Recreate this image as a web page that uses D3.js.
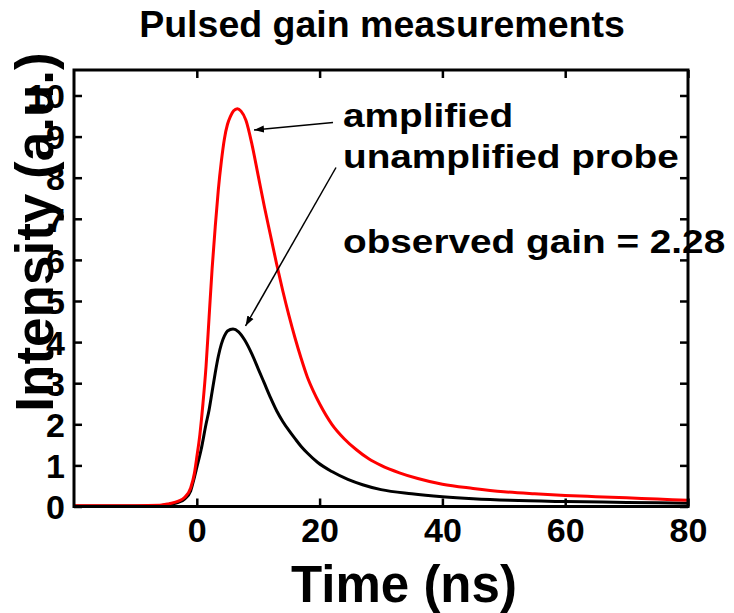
<!DOCTYPE html>
<html>
<head>
<meta charset="utf-8">
<script src="https://cdn.jsdelivr.net/npm/d3@7"></script>
<style>
  html, body { margin: 0; padding: 0; background: #fff; }
  svg { display: block; }
  text { font-family: "Liberation Sans", Arial, Helvetica, sans-serif; font-weight: bold; fill: #000; }
</style>
</head>
<body>
<svg id="chart" width="734" height="613"></svg>
<script>
// ---- Data ----
const title = "Pulsed gain measurements";
const xLabel = "Time (ns)";
const yLabel = "Intensity (a.u.)";

// amplified probe (red)
const timeAmplified = [-20, -10, -6, -4.5, -3, -2, -1, -0.4, 0, 0.5, 1, 1.5, 2, 2.5, 3, 3.5, 4, 4.5, 5, 5.5, 6, 6.6, 7.2, 8, 9, 10, 11, 12, 13, 14, 15, 16, 17, 18, 19, 20, 22, 24, 26, 28, 30, 33, 36, 40, 45, 50, 55, 60, 65, 70, 75, 80];
const amplified     = [0.02, 0.02, 0.03, 0.07, 0.13, 0.22, 0.45, 0.8, 1.2, 1.75, 2.5, 3.4, 4.6, 5.8, 6.8, 7.7, 8.4, 8.95, 9.3, 9.5, 9.63, 9.68, 9.62, 9.4, 8.8, 8.05, 7.3, 6.6, 5.9, 5.25, 4.65, 4.1, 3.6, 3.15, 2.8, 2.5, 2.0, 1.65, 1.38, 1.16, 1.0, 0.82, 0.68, 0.54, 0.44, 0.36, 0.31, 0.27, 0.24, 0.21, 0.18, 0.15];

// unamplified probe (black)
const timeUnamplified = [-20, -10, -6, -4.5, -3, -2, -1, -0.5, 0, 0.7, 1.5, 2, 2.5, 3, 3.5, 4, 4.5, 5, 5.9, 6.8, 7.8, 9, 10, 11, 12, 13, 14, 15, 16, 17, 18, 19.7, 22, 24.6, 27, 30, 35, 40, 45, 51, 60, 70, 80];
const unamplified     = [0.01, 0.01, 0.02, 0.05, 0.1, 0.18, 0.38, 0.65, 0.95, 1.38, 2.0, 2.35, 2.8, 3.25, 3.65, 3.95, 4.15, 4.27, 4.32, 4.25, 4.05, 3.7, 3.35, 3.0, 2.65, 2.33, 2.07, 1.85, 1.65, 1.46, 1.3, 1.07, 0.85, 0.66, 0.53, 0.41, 0.31, 0.24, 0.19, 0.15, 0.12, 0.1, 0.08];

const xTicks = [0, 20, 40, 60, 80];
const yTicks = [0, 1, 2, 3, 4, 5, 6, 7, 8, 9, 10];
const xDomain = [-20, 80];
const yDomain = [0, 10.62];

const annotations = ["amplified", "unamplified probe", "observed gain = 2.28"];

// ---- Layout ----
const svg = d3.select("#chart");
const L = 74, R = 688, T = 70, B = 506.5;

const x = d3.scaleLinear().domain(xDomain).range([L, R]);
const y = d3.scaleLinear().domain(yDomain).range([B, T]);

// title
svg.append("text")
  .attr("x", 382).attr("y", 37)
  .attr("text-anchor", "middle")
  .style("font-size", "37.5px")
  .text(title);

// curves
const line = d3.line().x(d => x(d[0])).y(d => y(d[1])).curve(d3.curveMonotoneX);
const blackData = timeUnamplified.map((t, i) => [t, unamplified[i]]);
const redData = timeAmplified.map((t, i) => [t, amplified[i]]);

svg.append("path").datum(blackData)
  .attr("d", line).attr("fill", "none")
  .attr("stroke", "#000").attr("stroke-width", 3).attr("stroke-linejoin", "round");
svg.append("path").datum(redData)
  .attr("d", line).attr("fill", "none")
  .attr("stroke", "#ff0000").attr("stroke-width", 3).attr("stroke-linejoin", "round");

// axes (ticks point inward)
const tickLen = 8;
const gx = svg.append("g").attr("transform", `translate(0,${B})`)
  .call(d3.axisBottom(x).tickValues(xTicks).tickSizeInner(-tickLen).tickSizeOuter(0).tickPadding(35));
const gxTop = svg.append("g").attr("transform", `translate(0,${T})`)
  .call(d3.axisTop(x).tickValues(xTicks).tickSizeInner(-tickLen).tickSizeOuter(0).tickFormat(""));
const gy = svg.append("g").attr("transform", `translate(${L},0)`)
  .call(d3.axisLeft(y).tickValues(yTicks).tickSizeInner(-tickLen).tickSizeOuter(0).tickPadding(9));
const gyR = svg.append("g").attr("transform", `translate(${R},0)`)
  .call(d3.axisRight(y).tickValues(yTicks).tickSizeInner(-tickLen).tickSizeOuter(0).tickFormat(""));

[gx, gxTop, gy, gyR].forEach(g => {
  g.select(".domain").remove();
  g.selectAll(".tick line").attr("stroke", "#000").attr("stroke-width", 2.5);
});
[gx, gy].forEach(g => g.selectAll(".tick text")
  .style("font-size", "34px")
  .style("font-family", "'Liberation Sans', Arial, sans-serif")
  .style("font-weight", "bold"));
gx.selectAll(".tick text").attr("dy", 0);
gy.selectAll(".tick text").attr("dy", "0.36em");

// frame
svg.append("rect")
  .attr("x", L).attr("y", T).attr("width", R - L).attr("height", B - T)
  .attr("fill", "none").attr("stroke", "#000").attr("stroke-width", 3);

// axis labels
svg.append("text")
  .attr("x", 404).attr("y", 602)
  .attr("text-anchor", "middle")
  .style("font-size", "51px")
  .text(xLabel);

svg.append("text")
  .attr("transform", "translate(53,232) rotate(-90)")
  .attr("text-anchor", "middle")
  .style("font-size", "53px")
  .text(yLabel);

// annotations
const annY = [127, 168, 253];
svg.selectAll("text.ann").data(annotations).enter().append("text")
  .attr("class", "ann")
  .attr("transform", (d, i) => `translate(343,${annY[i]}) scale(1.14,1)`)
  .style("font-size", "34px")
  .text(d => d);

// arrows
const defs = svg.append("defs");
defs.append("marker")
  .attr("id", "arrowhead").attr("viewBox", "0 0 10 10")
  .attr("refX", 10).attr("refY", 5)
  .attr("markerWidth", 10).attr("markerHeight", 10)
  .attr("markerUnits", "userSpaceOnUse")
  .attr("orient", "auto")
  .append("path").attr("d", "M0,1.5 L10,5 L0,8.5 Z").attr("fill", "#000");

const arrows = [
  { from: [333, 122.5], to: [254, 130] },
  { from: [336, 167.5], to: [245.5, 326] }
];
svg.selectAll("line.arrow").data(arrows).enter().append("line")
  .attr("class", "arrow")
  .attr("x1", d => d.from[0]).attr("y1", d => d.from[1])
  .attr("x2", d => d.to[0]).attr("y2", d => d.to[1])
  .attr("stroke", "#000").attr("stroke-width", 1.5)
  .attr("marker-end", "url(#arrowhead)");
</script>
</body>
</html>
